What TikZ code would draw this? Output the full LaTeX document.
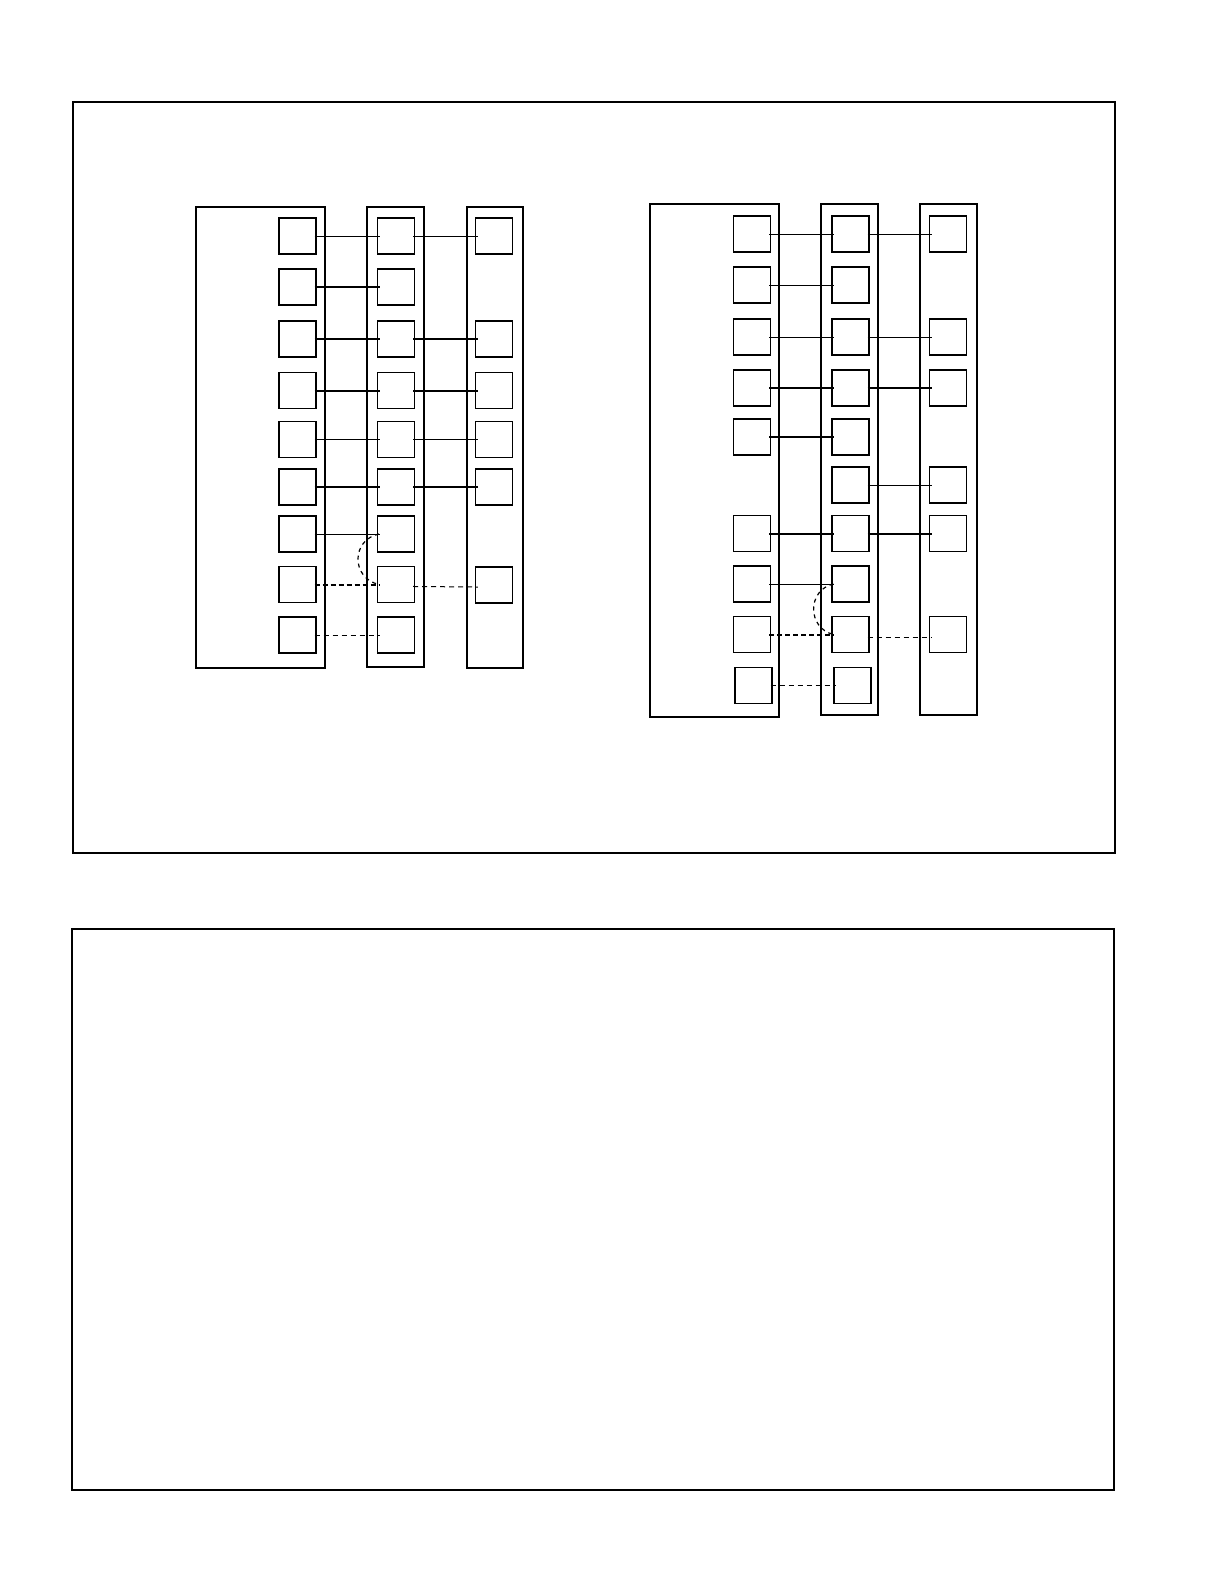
\documentclass[tikz,border=0pt]{standalone}
\begin{document}
\begin{tikzpicture}[x=0.5pt,y=-0.5pt,
  bx/.style={draw, line width=0.6pt, minimum width=18.5pt, minimum height=18pt, inner sep=0pt},
  frame/.style={draw, line width=1pt},
  cont/.style={draw, line width=0.65pt},
  lnthin/.style={line width=0.5pt, shorten <=-1pt, shorten >=-1.5pt},
  lnthick/.style={line width=1pt, shorten <=-1pt, shorten >=-1.5pt},
  dthin/.style={line width=0.5pt, dash pattern=on 2.5pt off 2pt, shorten <=-1pt, shorten >=-1.5pt},
  dthick/.style={line width=1pt, dash pattern=on 2.5pt off 1.5pt, shorten <=-1pt, shorten >=-1.5pt},
  arcln/.style={line width=0.6pt, dash pattern=on 2pt off 2pt}]
\useasboundingbox (0,0) rectangle (1224,1584);
% outer frames
\draw[frame] (73,102) rectangle (1115,853);
\draw[frame] (72,929) rectangle (1114,1490);
% ---------------- left diagram ----------------
\draw[cont] (196,207) rectangle (325,668);
\draw[cont] (367,207) rectangle (424,667);
\draw[cont] (467,207) rectangle (523,668);
\foreach \r/\y in {1/236,2/287,3/339,4/390.5,5/439.5,6/487,7/534,8/584.5,9/635}{
  \node[bx] (La\r) at (297.5,\y) {};
  \node[bx] (Lb\r) at (396,\y) {};
}
\foreach \r/\y in {1/236,3/339,4/390.5,5/439.5,6/487,8/585}{
  \node[bx] (Lc\r) at (494,\y) {};
}
\draw[lnthin] (La1.east) -- (Lb1.west);
\draw[lnthin] (Lb1.east) -- (Lc1.west);
\draw[lnthick] (La2.east) -- (Lb2.west);
\draw[lnthick] (La3.east) -- (Lb3.west);
\draw[lnthick] (Lb3.east) -- (Lc3.west);
\draw[lnthick] (La4.east) -- (Lb4.west);
\draw[lnthick] (Lb4.east) -- (Lc4.west);
\draw[lnthin] (La5.east) -- (Lb5.west);
\draw[lnthin] (Lb5.east) -- (Lc5.west);
\draw[lnthick] (La6.east) -- (Lb6.west);
\draw[lnthick] (Lb6.east) -- (Lc6.west);
\draw[lnthin] (La7.east) -- (Lb7.west);
\draw[dthick] (La8.east) -- (Lb8.west);
\draw[dthin] ([yshift=-1pt]Lb8.east) -- ([yshift=-1pt]Lc8.west);
\draw[dthin] (La9.east) -- (Lb9.west);
\draw[arcln] ([xshift=1pt]Lb7.west) .. controls (351,540) and (351,578) .. ([xshift=1pt]Lb8.west);
% ---------------- right diagram ----------------
\draw[cont] (650,204) rectangle (779,717);
\draw[cont] (821,204) rectangle (878,715);
\draw[cont] (920,204) rectangle (977,715);
\foreach \r/\y in {1/234,2/285,3/337,4/388,5/437,7/533.5,8/584,9/634.5}{
  \node[bx] (Ra\r) at (752,\y) {};
}
\node[bx] (Ra10) at (753.5,685.5) {};
\foreach \r/\y in {1/234,2/285,3/337,4/388,5/437,6/485,7/533.5,8/584,9/634.5}{
  \node[bx] (Rb\r) at (850.5,\y) {};
}
\node[bx] (Rb10) at (852.5,685.5) {};
\foreach \r/\y in {1/234,3/337,4/388,6/485,7/533.5,9/634.5}{
  \node[bx] (Rc\r) at (948,\y) {};
}
\draw[lnthin] (Ra1.east) -- (Rb1.west);
\draw[lnthin] (Rb1.east) -- (Rc1.west);
\draw[lnthin] (Ra2.east) -- (Rb2.west);
\draw[lnthin] (Ra3.east) -- (Rb3.west);
\draw[lnthin] (Rb3.east) -- (Rc3.west);
\draw[lnthick] (Ra4.east) -- (Rb4.west);
\draw[lnthick] (Rb4.east) -- (Rc4.west);
\draw[lnthick] (Ra5.east) -- (Rb5.west);
\draw[lnthin] (Rb6.east) -- (Rc6.west);
\draw[lnthick] (Ra7.east) -- (Rb7.west);
\draw[lnthick] (Rb7.east) -- (Rc7.west);
\draw[lnthin] (Ra8.east) -- (Rb8.west);
\draw[dthick] (Ra9.east) -- (Rb9.west);
\draw[dthin] ([yshift=-1.5pt]Rb9.east) -- ([yshift=-1.5pt]Rc9.west);
\draw[dthin] (Ra10.east) -- (Rb10.west);
\draw[arcln] ([xshift=1pt]Rb8.west) .. controls (807,590) and (807,628) .. ([xshift=1pt]Rb9.west);
\end{tikzpicture}
\end{document}
